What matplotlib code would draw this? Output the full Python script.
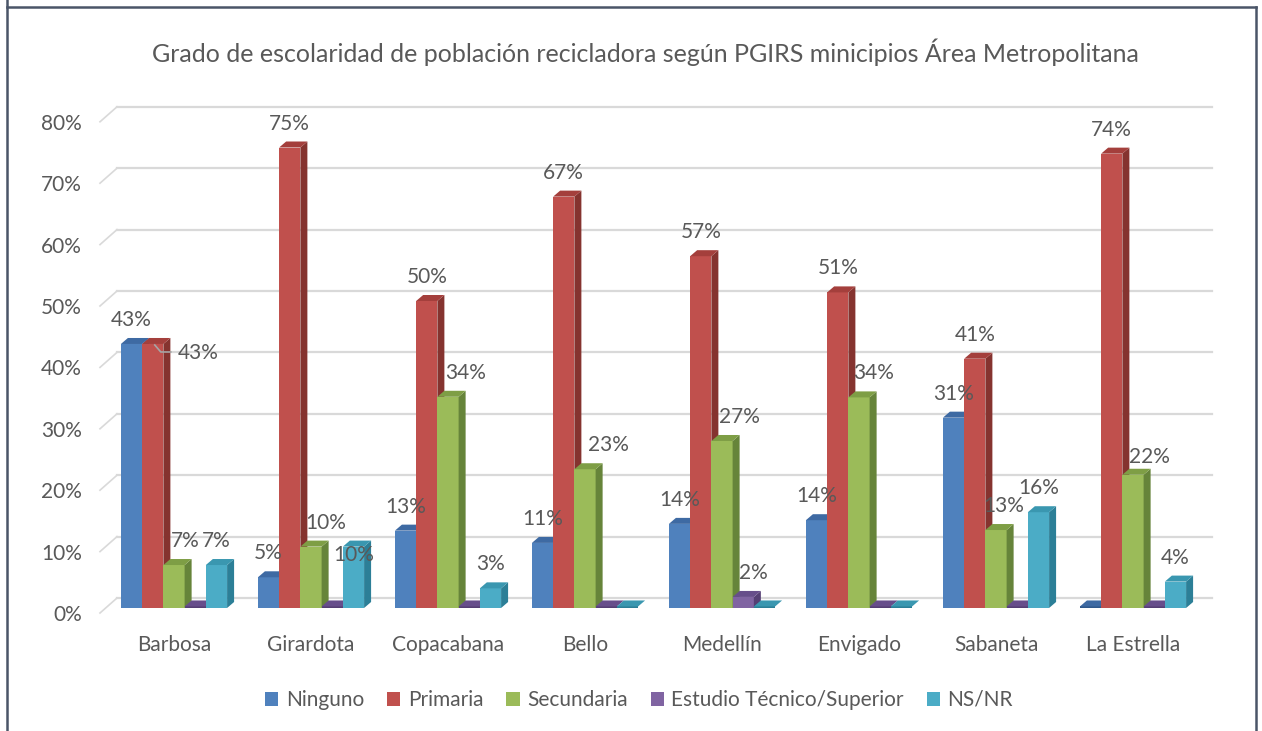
import matplotlib
matplotlib.use('Agg')
import matplotlib.pyplot as plt
from matplotlib.patches import Polygon, Rectangle, Patch
from matplotlib.lines import Line2D

# DATA
municipios = ['Barbosa', 'Girardota', 'Copacabana', 'Bello', 'Medellín',
              'Envigado', 'Sabaneta', 'La Estrella']
series_names = ['Ninguno', 'Primaria', 'Secundaria',
                'Estudio Técnico/Superior', 'NS/NR']
ninguno = [43, 5, 12.6, 10.6, 13.7, 14.3, 31, 0]
primaria = [43, 75, 50, 67, 57.3, 51.4, 40.6, 74]
secundaria = [7, 10, 34.4, 22.6, 27.2, 34.3, 12.7, 21.7]
tecnico = [0, 0, 0, 0, 1.8, 0, 0, 0]
nsnr = [7, 10, 3.2, 0, 0, 0, 15.6, 4.3]
yticks = [0, 10, 20, 30, 40, 50, 60, 70, 80]

series = [ninguno, primaria, secundaria, tecnico, nsnr]

# STYLE
FRONT = ['#4F81BD', '#C0504D', '#9BBB59', '#8064A2', '#4BACC6']
SIDE = ['#30598C', '#85332F', '#66843A', '#553F74', '#2C7F97']
TOP = ['#3E6AA3', '#A43F3C', '#7E9E45', '#674E8B', '#3A97B0']
TXT = '#595959'
FS = 15
plt.rcParams['font.family'] = ['Lato', 'DejaVu Sans']

# LAYOUT (pixels)
W, H = 1262, 731
X_LEFT, X_RIGHT = 100, 1195      # front plane
Y_ZERO = 613                     # 0% at the front plane
PX_PCT = 6.14
PX_CAT = 137
FIRST_C = 174
YMAX = 84

BAR_W = 0.155
DX, DY = 7 / PX_CAT, 6 / PX_PCT          # bar depth
BY = 5 / PX_PCT                          # bar plane above front plane
GX, GY = 17 / PX_CAT, 15 / PX_PCT        # back wall offset

fig = plt.figure(figsize=(W / 100, H / 100), dpi=100)
ax = fig.add_axes([X_LEFT / W, (H - Y_ZERO) / H,
                   (X_RIGHT - X_LEFT) / W, YMAX * PX_PCT / H])
xmin = -(FIRST_C - X_LEFT) / PX_CAT
xmax = (X_RIGHT - FIRST_C) / PX_CAT
ax.set_xlim(xmin, xmax)
ax.set_ylim(0, YMAX)
for s in ax.spines.values():
    s.set_visible(False)

# back wall grid + slanted side lines
for v in yticks:
    ax.plot([xmin + GX, xmax + GX], [v + GY, v + GY], color='#D9D9D9',
            lw=1.6, zorder=1, clip_on=False)
    ax.plot([xmin, xmin + GX], [v, v + GY], color='#D9D9D9',
            lw=1.2, zorder=1, clip_on=False)

ax.set_yticks(yticks)
ax.set_yticklabels([f'{v}%' for v in yticks], fontsize=FS, color=TXT)
ax.set_xticks(range(len(municipios)))
ax.set_xticklabels(municipios, fontsize=FS, color=TXT)
ax.tick_params(axis='y', length=0, pad=13)
ax.tick_params(axis='x', length=0, pad=16)

# label offsets (px right, px down) where Excel moved them
label_shift = {(0, 1): (45, 33), (0, 2): (11, 0), (1, 2): (15, 0),
               (1, 4): (0, 32), (2, 2): (18, 0), (3, 2): (23, 0),
               (4, 2): (17, 0), (4, 3): (10, 0), (5, 2): (15, 0),
               (6, 2): (8, 0), (7, 2): (16, 6)}

z = 3
for c in range(len(municipios)):
    for k, vals in enumerate(series):
        v = vals[c]
        xc = c + (k - 2) * BAR_W
        x0, x1 = xc - BAR_W / 2, xc + BAR_W / 2
        b, t = BY, BY + v
        if v > 0:
            ax.add_patch(Rectangle((x0, b), BAR_W, v, facecolor=FRONT[k],
                                   edgecolor='none', zorder=z))
            ax.add_patch(Polygon([(x1, b), (x1 + DX, b + DY), (x1 + DX, t + DY),
                                  (x1, t)], closed=True, facecolor=SIDE[k],
                                 edgecolor='none', zorder=z))
        else:
            t = b + 0.25
            ax.add_patch(Rectangle((x0, b), BAR_W, 0.25, facecolor=SIDE[k],
                                   edgecolor='none', zorder=z))
        ax.add_patch(Polygon([(x0, t), (x0 + DX, t + DY), (x1 + DX, t + DY),
                              (x1, t)], closed=True, facecolor=TOP[k],
                             edgecolor='none', zorder=z))
        z += 1
        if v > 0:
            sx, sy = label_shift.get((c, k), (0, 0))
            ax.annotate(f'{round(v)}%', (xc, t), xytext=(sx * 0.72, (24 - sy) * 0.72),
                        textcoords='offset points', ha='center', va='center',
                        fontsize=FS, color=TXT, zorder=100, annotation_clip=False)
            if (c, k) == (0, 1):
                # leader line to the moved label
                xs = [xc + px / PX_CAT for px in (2, 8, 18)]
                ys = [t + py / PX_PCT for py in (-1, -8, -8)]
                ax.plot(xs, ys, color='#A6A6A6', lw=1.2, zorder=100, clip_on=False)

fig.text(645 / W, 1 - 52 / H,
         'Grado de escolaridad de población recicladora según PGIRS minicipios Área Metropolitana',
         ha='center', va='center', fontsize=18, color=TXT)

handles = [Patch(facecolor=FRONT[k], edgecolor='none') for k in range(5)]
fig.legend(handles, series_names, loc='center', bbox_to_anchor=(639 / W, 1 - 700 / H),
           ncol=5, frameon=False, fontsize=FS, handlelength=0.65, handleheight=0.65,
           handletextpad=0.35, columnspacing=1.1, labelcolor=TXT)

# frame round the chart
for xs, ys in [([7, 7], [0, 731]), ([7, 1256], [7, 7]), ([1256, 1256], [7, 731])]:
    fig.add_artist(Line2D([x / W for x in xs], [1 - y / H for y in ys],
                          color='#4A5568', lw=1.8))

fig.savefig('out.png', dpi=100)
